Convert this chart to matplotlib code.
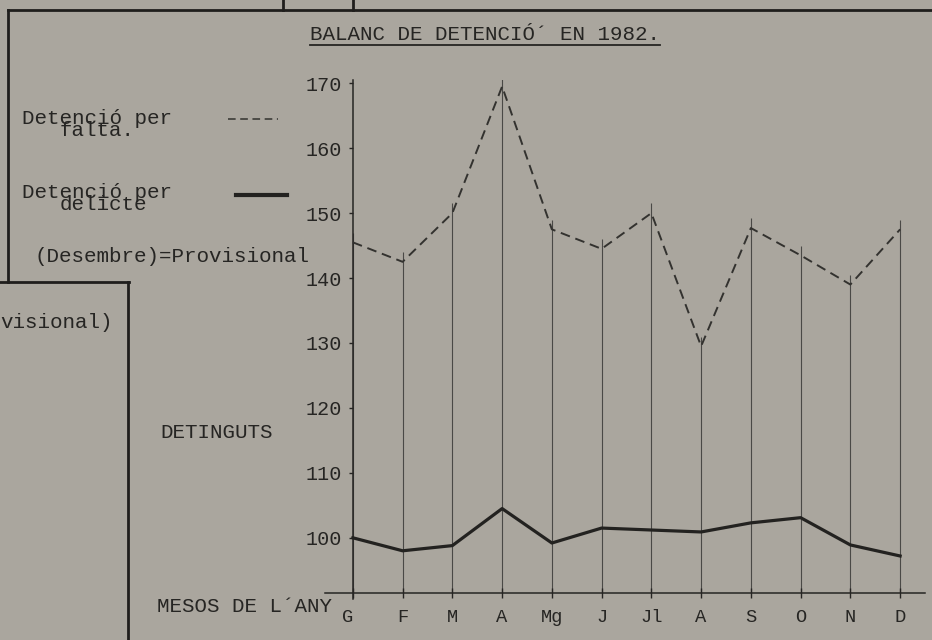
import matplotlib
matplotlib.use("Agg")
import matplotlib.pyplot as plt
from matplotlib.lines import Line2D

# ---- data ----
months = ['G', 'F', 'M', 'A', 'Mg', 'J', 'Jl', 'A', 'S', 'O', 'N', 'D']
falta = [145.5, 142.5, 150.0, 169.5, 147.5, 144.5, 150.0, 129.5, 147.7, 143.5, 139.0, 147.5]
delicte = [100.0, 98.0, 98.8, 104.5, 99.2, 101.5, 101.2, 100.9, 102.3, 103.1, 98.9, 97.2]
yticks = [100, 110, 120, 130, 140, 150, 160, 170]

W, H = 932, 640
BG = '#aaa69e'
INK = '#262523'
FONT = ['Liberation Mono', 'DejaVu Sans Mono']

fig = plt.figure(figsize=(W / 100, H / 100), dpi=100, facecolor=BG)

def fx(px):
    return px / W

def fy(py):
    return 1 - py / H

left_px, right_px, bot_px, top_px = 325, 925, 593, 80
ax = fig.add_axes([fx(left_px), fy(bot_px), fx(right_px) - fx(left_px), fy(top_px) - fy(bot_px)])
ax.set_facecolor('none')
x = list(range(len(months)))
ax.set_xlim(-0.56, 11.5)
ax.set_ylim(91.5, 170.5)

ax.vlines(x, 91.5, [v + 1.5 for v in falta], colors='#4a4946', linewidth=0.8, zorder=1)

ax.plot(x, falta, linestyle=(0, (5, 3)), color='#33322f', linewidth=1.4, zorder=3)
ax.plot(x, delicte, linestyle='-', color='#232220', linewidth=2.3, zorder=3)

for s in ['top', 'right']:
    ax.spines[s].set_visible(False)
ax.spines['left'].set_position(('data', 0))
ax.spines['left'].set_bounds(90.5, 170.5)
ax.spines['left'].set_color(INK)
ax.spines['bottom'].set_color(INK)
ax.spines['left'].set_linewidth(1.1)
ax.spines['bottom'].set_linewidth(1.1)

ax.set_yticks(yticks)
ax.set_yticklabels([str(v) for v in yticks], fontfamily=FONT, fontsize=14.5, color=INK)
ax.tick_params(axis='y', direction='out', length=3, width=1, color=INK, pad=5)
ax.set_xticks(x)
ax.set_xticklabels(months, fontfamily=FONT, fontsize=13.5, color=INK)
ax.tick_params(axis='x', direction='inout', length=7, width=1, color=INK, pad=8)
ax.get_xticklabels()[0].set_horizontalalignment('right')

def t(px, py, s, size=15, **kw):
    fig.text(fx(px), fy(py), s, fontfamily=FONT, fontsize=size, color=INK,
             va='center', ha='left', **kw)

t(310, 34, "BALANC DE DETENCIÓ´ EN 1982.")
fig.add_artist(Line2D([fx(310), fx(660)], [fy(45), fy(45)], color=INK, linewidth=1.3))

t(22, 118, "Detenció per")
t(60, 131, "falta.")
fig.add_artist(Line2D([fx(228), fx(278)], [fy(119), fy(119)], color='#33322f',
                      linewidth=1.1, linestyle=(0, (5, 3))))
t(22, 192, "Detenció per")
t(60, 205, "delicte")
fig.add_artist(Line2D([fx(236), fx(287)], [fy(195), fy(195)], color='#232220', linewidth=3))
t(35, 257, "(Desembre)=Provisional")
t(0, 322, "visional)")
t(160, 432, "DETINGUTS")
t(157, 607, "MESOS DE L´ANY")

frame = [
    ([8, 932], [10, 10]),
    ([8, 8], [10, 282]),
    ([283, 283], [0, 10]),
    ([353, 353], [0, 10]),
    ([0, 129], [282, 282]),
    ([128, 128], [282, 640]),
]
for xs, ys in frame:
    fig.add_artist(Line2D([fx(v) for v in xs], [fy(v) for v in ys], color='#1f1e1c', linewidth=2))

fig.savefig('out.png', dpi=100, facecolor=BG)
